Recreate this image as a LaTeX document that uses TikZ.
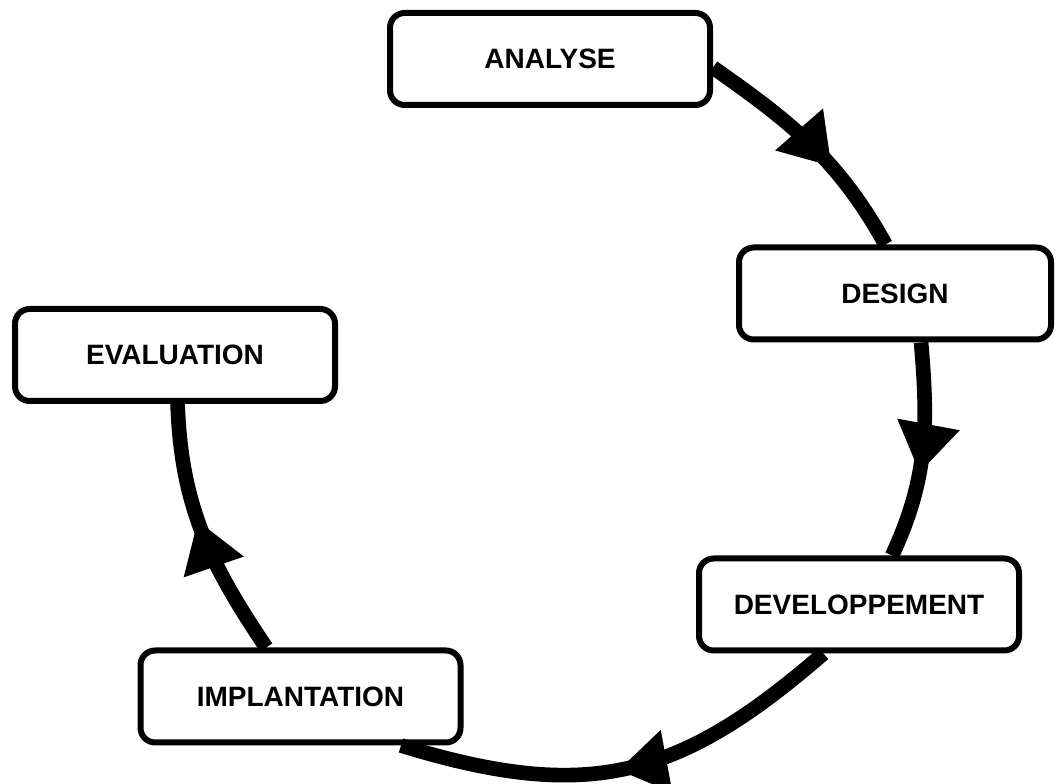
\documentclass[tikz,border=0pt]{standalone}
\usepackage{fontspec}
\setmainfont{Liberation Sans}
\usetikzlibrary{arrows.meta,decorations.markings}
\tikzset{
  box/.style={draw=black, line width=4.5pt, rounded corners=11pt, fill=white,
    minimum width=240pt, minimum height=69pt, inner sep=0pt,
    font=\fontsize{21pt}{25pt}\selectfont\bfseries},
  flow/.style={draw=black, line width=11pt,
    decoration={markings, mark=at position #1 with {\arrow{Triangle[length=37pt,width=45pt]}}},
    postaction={decorate}},
}
\begin{document}
\begin{tikzpicture}[x=0.75pt,y=0.75pt]
\useasboundingbox (0,0) rectangle (1056,784);
\node[box] (analyse) at (550,725) {ANALYSE};
\node[box, minimum width=234pt] (design) at (895,490.5) {DESIGN};
\node[box] (evaluation) at (175,429) {EVALUATION};
\node[box] (dev) at (859,179.5) {DEVELOPPEMENT};
\node[box] (impl) at (300.5,87.5) {IMPLANTATION};
\draw[flow=0.62] (analyse.-3.2) to[out=-35,in=119] (design.101.5);
\draw[flow=0.6] (design.-62) to[out=-85,in=65] (dev.56);
\draw[flow=0.52] (dev.-126.3) to[out=-139,in=-17,looseness=1.15] (impl.-26.9);
\draw[flow=0.55] (impl.125.9) to[out=124,in=-88] (evaluation.-87.1);
\end{tikzpicture}
\end{document}
